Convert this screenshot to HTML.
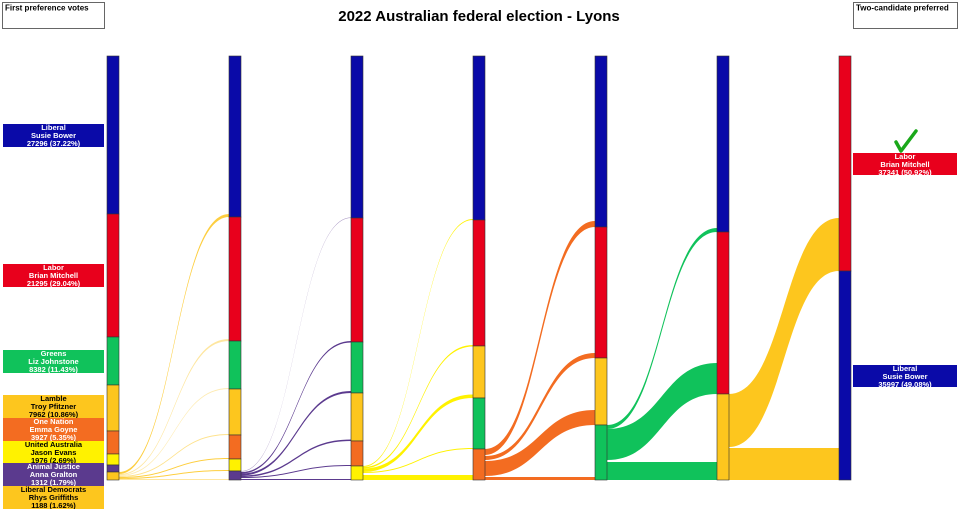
<!DOCTYPE html>
<html><head><meta charset="utf-8"><style>
html,body{margin:0;padding:0;background:#fff;}
svg{display:block;font-family:"Liberation Sans",sans-serif;}
</style></head><body>
<svg width="960" height="509" viewBox="0 0 960 509" xmlns="http://www.w3.org/2000/svg">
<rect x="0" y="0" width="960" height="509" fill="#fff"/>
<text x="479" y="21" font-size="15" font-weight="bold" text-anchor="middle">2022 Australian federal election - Lyons</text>
<rect x="2.5" y="2.5" width="102" height="26" fill="#fff" stroke="#666"/>
<text x="5" y="10.5" font-size="8" font-weight="bold">First preference votes</text>
<rect x="853.5" y="2.5" width="104" height="26" fill="#fff" stroke="#666"/>
<text x="856" y="10.5" font-size="8" font-weight="bold">Two-candidate preferred</text>

<!-- flows col1->col2 (LDP) -->
<g fill="#fdc61e" opacity="0.85">
<path d="M119,472 C174,472 174,214 229,214 L229,217 C174,217 174,474 119,474 Z"/>
<path d="M119,474 C174,474 174,339 229,339 L229,341 C174,341 174,475 119,475 Z" opacity="0.5"/>
<path d="M119,475 C174,475 174,388 229,388 L229,389 C174,389 174,476 119,476 Z" opacity="0.4"/>
<path d="M119,476 C174,476 174,434 229,434 L229,435 C174,435 174,477 119,477 Z" opacity="0.6"/>
<path d="M119,477 C174,477 174,458 229,458 L229,459 C174,459 174,478 119,478 Z"/>
<path d="M119,478 C174,478 174,470 229,470 L229,471 C174,471 174,479 119,479 Z"/>
<path d="M119,479 L229,479 L229,480 L119,480 Z" opacity="0.5"/>
</g>
<!-- col2->col3 (AJP) -->
<g fill="#5b3a8e">
<path d="M241,471 C296,471 296,217.5 351,217.5 L351,218 C296,218 296,471.5 241,471.5 Z" opacity="0.6"/>
<path d="M241,472 C296,472 296,341 351,341 L351,342.5 C296,342.5 296,473.5 241,473.5 Z"/>
<path d="M241,473.5 C296,473.5 296,391 351,391 L351,393 C296,393 296,475.5 241,475.5 Z"/>
<path d="M241,475.5 C296,475.5 296,439.5 351,439.5 L351,441 C296,441 296,477 241,477 Z"/>
<path d="M241,477 C296,477 296,465 351,465 L351,466 C296,466 296,478 241,478 Z"/>
<path d="M241,479 L351,479 L351,480 L241,480 Z"/>
</g>
<!-- col3->col4 (UA) -->
<g fill="#fff200">
<path d="M363,466 C418,466 418,219 473,219 L473,220 C418,220 418,467 363,467 Z"/>
<path d="M363,467 C418,467 418,345 473,345 L473,346.5 C418,346.5 418,468.5 363,468.5 Z"/>
<path d="M363,468.5 C418,468.5 418,394.5 473,394.5 L473,398 C418,398 418,472 363,472 Z"/>
<path d="M363,472 C418,472 418,448 473,448 L473,449 C418,449 418,473 363,473 Z"/>
<path d="M363,475 L473,475 L473,480 L363,480 Z"/>
</g>
<!-- col4->col5 (ON) -->
<g fill="#f36c21">
<path d="M485,449 C540,449 540,221 595,221 L595,227 C540,227 540,455 485,455 Z"/>
<path d="M485,456 C540,456 540,353 595,353 L595,358 C540,358 540,460 485,460 Z"/>
<path d="M485,461 C540,461 540,410 595,410 L595,425 C540,425 540,476 485,476 Z"/>
<path d="M485,477 L595,477 L595,480 L485,480 Z"/>
</g>
<!-- col5->col6 (Greens) -->
<g fill="#10c25b">
<path d="M607,425 C662,425 662,228 717,228 L717,232 C662,232 662,429 607,429 Z"/>
<path d="M607,429 C662,429 662,363 717,363 L717,394 C662,394 662,460 607,460 Z"/>
<path d="M607,462 L717,462 L717,480 L607,480 Z"/>
</g>
<!-- col6->col7 (Lamble) -->
<g fill="#fdc61e">
<path d="M729,394 C784,394 784,218 839,218 L839,271 C784,271 784,447 729,447 Z"/>
<path d="M729,448 L839,448 L839,480 L729,480 Z"/>
</g>

<!-- bars -->
<g stroke="#333" stroke-width="0.6">
<!-- col1 -->
<rect x="107" y="56" width="12" height="158" fill="#0a0aa8"/>
<rect x="107" y="214" width="12" height="123" fill="#e8001c"/>
<rect x="107" y="337" width="12" height="48" fill="#10c25b"/>
<rect x="107" y="385" width="12" height="46" fill="#fdc61e"/>
<rect x="107" y="431" width="12" height="23" fill="#f36c21"/>
<rect x="107" y="454" width="12" height="11" fill="#fff200"/>
<rect x="107" y="465" width="12" height="7" fill="#5b3a8e"/>
<rect x="107" y="472" width="12" height="8" fill="#fdc61e"/>
<!-- col2 -->
<rect x="229" y="56" width="12" height="161" fill="#0a0aa8"/>
<rect x="229" y="217" width="12" height="124" fill="#e8001c"/>
<rect x="229" y="341" width="12" height="48" fill="#10c25b"/>
<rect x="229" y="389" width="12" height="46" fill="#fdc61e"/>
<rect x="229" y="435" width="12" height="24" fill="#f36c21"/>
<rect x="229" y="459" width="12" height="12" fill="#fff200"/>
<rect x="229" y="471" width="12" height="9" fill="#5b3a8e"/>
<!-- col3 -->
<rect x="351" y="56" width="12" height="162" fill="#0a0aa8"/>
<rect x="351" y="218" width="12" height="124" fill="#e8001c"/>
<rect x="351" y="342" width="12" height="51" fill="#10c25b"/>
<rect x="351" y="393" width="12" height="48" fill="#fdc61e"/>
<rect x="351" y="441" width="12" height="25" fill="#f36c21"/>
<rect x="351" y="466" width="12" height="14" fill="#fff200"/>
<!-- col4 -->
<rect x="473" y="56" width="12" height="164" fill="#0a0aa8"/>
<rect x="473" y="220" width="12" height="126" fill="#e8001c"/>
<rect x="473" y="346" width="12" height="52" fill="#fdc61e"/>
<rect x="473" y="398" width="12" height="51" fill="#10c25b"/>
<rect x="473" y="449" width="12" height="31" fill="#f36c21"/>
<!-- col5 -->
<rect x="595" y="56" width="12" height="171" fill="#0a0aa8"/>
<rect x="595" y="227" width="12" height="131" fill="#e8001c"/>
<rect x="595" y="358" width="12" height="67" fill="#fdc61e"/>
<rect x="595" y="425" width="12" height="55" fill="#10c25b"/>
<!-- col6 -->
<rect x="717" y="56" width="12" height="176" fill="#0a0aa8"/>
<rect x="717" y="232" width="12" height="162" fill="#e8001c"/>
<rect x="717" y="394" width="12" height="86" fill="#fdc61e"/>
<!-- col7 -->
<rect x="839" y="56" width="12" height="215" fill="#e8001c"/>
<rect x="839" y="271" width="12" height="209" fill="#0a0aa8"/>
</g>

<!-- left labels -->
<g font-size="7.5" font-weight="bold" text-anchor="middle">
<rect x="3" y="124" width="101" height="23" fill="#0a0aa8"/>
<text x="53.5" y="130" fill="#fff">Liberal</text><text x="53.5" y="138" fill="#fff">Susie Bower</text><text x="53.5" y="146" fill="#fff">27296 (37.22%)</text>
<rect x="3" y="264" width="101" height="23" fill="#e8001c"/>
<text x="53.5" y="270" fill="#fff">Labor</text><text x="53.5" y="278" fill="#fff">Brian Mitchell</text><text x="53.5" y="286" fill="#fff">21295 (29.04%)</text>
<rect x="3" y="350" width="101" height="23" fill="#10c25b"/>
<text x="53.5" y="356" fill="#fff">Greens</text><text x="53.5" y="364" fill="#fff">Liz Johnstone</text><text x="53.5" y="372" fill="#fff">8382 (11.43%)</text>
<rect x="3" y="395" width="101" height="23" fill="#fdc61e"/>
<text x="53.5" y="401" fill="#000">Lamble</text><text x="53.5" y="409" fill="#000">Troy Pfitzner</text><text x="53.5" y="417" fill="#000">7962 (10.86%)</text>
<rect x="3" y="418" width="101" height="23" fill="#f36c21"/>
<text x="53.5" y="424" fill="#fff">One Nation</text><text x="53.5" y="432" fill="#fff">Emma Goyne</text><text x="53.5" y="440" fill="#fff">3927 (5.35%)</text>
<rect x="3" y="441" width="101" height="22" fill="#fff200"/>
<text x="53.5" y="447" fill="#000">United Australia</text><text x="53.5" y="455" fill="#000">Jason Evans</text><text x="53.5" y="463" fill="#000">1976 (2.69%)</text>
<rect x="3" y="463" width="101" height="23" fill="#5b3a8e"/>
<text x="53.5" y="469" fill="#fff">Animal Justice</text><text x="53.5" y="477" fill="#fff">Anna Gralton</text><text x="53.5" y="485" fill="#fff">1312 (1.79%)</text>
<rect x="3" y="486" width="101" height="23" fill="#fdc61e"/>
<text x="53.5" y="492" fill="#000">Liberal Democrats</text><text x="53.5" y="500" fill="#000">Rhys Griffiths</text><text x="53.5" y="508" fill="#000">1188 (1.62%)</text>
<!-- right labels -->
<rect x="853" y="153" width="104" height="22" fill="#e8001c"/>
<text x="905" y="159" fill="#fff">Labor</text><text x="905" y="167" fill="#fff">Brian Mitchell</text><text x="905" y="175" fill="#fff">37341 (50.92%)</text>
<rect x="853" y="365" width="104" height="22" fill="#0a0aa8"/>
<text x="905" y="371" fill="#fff">Liberal</text><text x="905" y="379" fill="#fff">Susie Bower</text><text x="905" y="387" fill="#fff">35997 (49.08%)</text>
</g>
<path d="M896,142 L901,151 L916,131" fill="none" stroke="#1aa81a" stroke-width="3.5" stroke-linecap="round" stroke-linejoin="round"/>
</svg>
</body></html>
